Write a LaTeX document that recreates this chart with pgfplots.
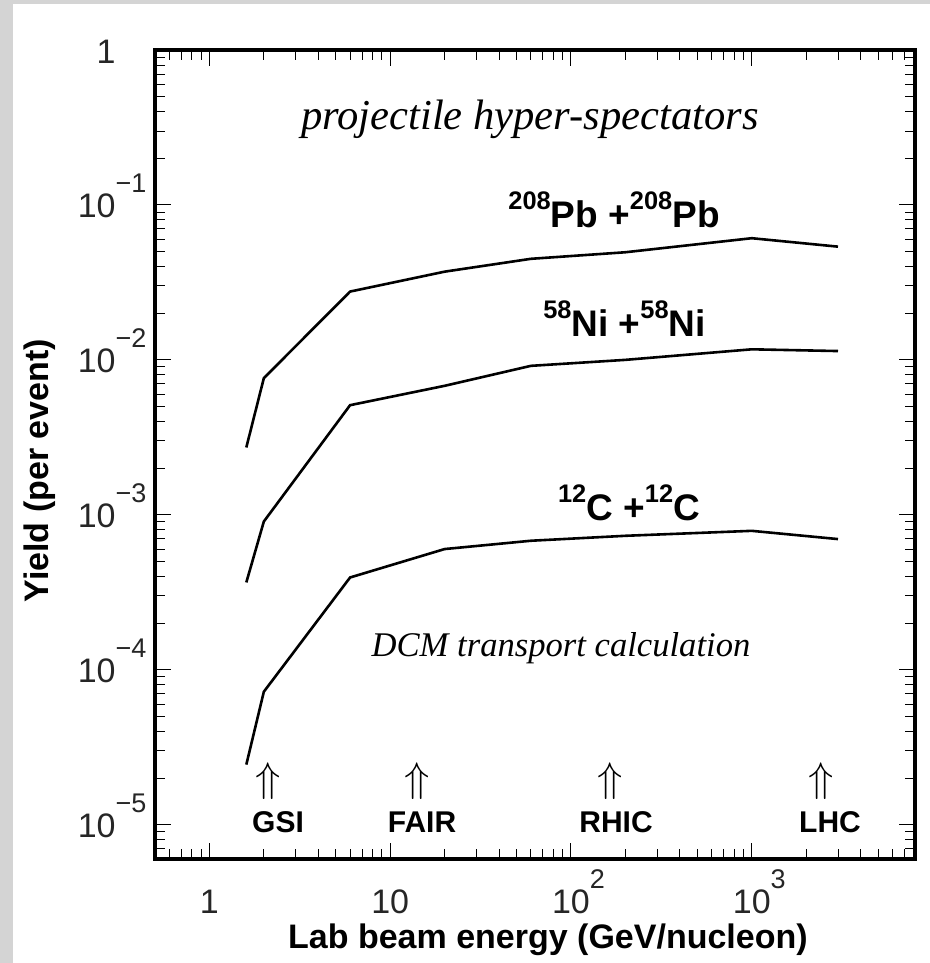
\documentclass[border=0pt]{standalone}
\usepackage{fontspec}
\setmainfont{Liberation Sans}
\newfontfamily\tnr{Liberation Serif}
\usepackage{pgfplots}
\pgfplotsset{compat=1.18}
\definecolor{bordergray}{HTML}{D4D4D4}
% exponent hanging to the right of "10", like the original
\newcommand{\ex}[1]{\rlap{\raisebox{12.5pt}{\fontsize{13.5}{14}\selectfont #1}}}
\newcommand{\iso}[1]{\raisebox{9pt}{\fontsize{12.7}{13}\selectfont #1}}

\begin{document}
\begin{tikzpicture}
  \fill[bordergray] (0,0) rectangle (465pt,-481.5pt);
  \fill[white] (6.5pt,-2pt) rectangle (465pt,-481.5pt);
  \begin{axis}[
    at={(77.5pt,-429.5pt)}, anchor=south west,
    scale only axis, width=380pt, height=404.5pt,
    xmode=log, ymode=log,
    xmin=0.5, xmax=8000, ymin=6e-6, ymax=1,
    axis line style={line width=1.6pt},
    tick align=inside,
    major tick length=8pt, minor tick length=5pt,
    every tick/.style={black, line width=0.5pt},
    xtick={1,10,100,1000},
    xticklabels={1,10,10\ex{2},10\ex{3}},
    minor xtick={0.6,0.7,0.8,0.9,2,3,4,5,6,7,8,9,20,30,40,50,60,70,80,90,200,300,400,500,600,700,800,900,2000,3000,4000,5000,6000,7000,8000},
    ytick={1e-5,1e-4,1e-3,1e-2,1e-1,1},
    yticklabels={10\ex{−5},10\ex{−4},10\ex{−3},10\ex{−2},10\ex{−1},1},
    minor ytick={7e-6,8e-6,9e-6,2e-5,3e-5,4e-5,5e-5,6e-5,7e-5,8e-5,9e-5,2e-4,3e-4,4e-4,5e-4,6e-4,7e-4,8e-4,9e-4,2e-3,3e-3,4e-3,5e-3,6e-3,7e-3,8e-3,9e-3,2e-2,3e-2,4e-2,5e-2,6e-2,7e-2,8e-2,9e-2,0.2,0.3,0.4,0.5,0.6,0.7,0.8,0.9},
    tick label style={font=\fontsize{17}{19}\selectfont, inner sep=0pt, text=black!85},
    xticklabel style={anchor=base, yshift=-27pt},
    yticklabel style={anchor=base east, xshift=-19.5pt, yshift=-6.5pt},
    xlabel={Lab beam energy (GeV/nucleon)},
    ylabel={Yield (per event)},
    label style={font=\fontsize{17}{20}\selectfont\bfseries, inner sep=0pt},
    xlabel style={at={(axis description cs:0.517,-0.110)}, anchor=base},
    ylabel style={at={(axis description cs:-0.1395,0.48)}, anchor=base},
  ]
    % 208Pb + 208Pb
    \addplot[black, no markers, line width=1.3pt, line join=miter] coordinates {(1.6,2.72e-3) (2,7.62e-3) (6,0.0276) (20,0.0371) (60,0.0449) (200,0.0495) (1000,0.0610) (3000,0.0538)};
    % 58Ni + 58Ni
    \addplot[black, no markers, line width=1.3pt, line join=miter] coordinates {(1.6,3.66e-4) (2,9.05e-4) (6,5.10e-3) (20,6.8e-3) (60,9.15e-3) (200,0.0100) (1000,0.0117) (3000,0.0114)};
    % 12C + 12C
    \addplot[black, no markers, line width=1.3pt, line join=miter] coordinates {(1.6,2.44e-5) (2,7.21e-5) (6,3.94e-4) (20,6.01e-4) (60,6.8e-4) (200,7.32e-4) (1000,7.88e-4) (3000,6.97e-4)};
  \end{axis}
  \begin{scope}[x=0.5pt, y=-0.5pt]
    \node[anchor=base, inner sep=0pt, font=\tnr\itshape\fontsize{21.3}{24}\selectfont] at (530,130) {projectile hyper-spectators};
    \node[anchor=base, inner sep=0pt, font=\tnr\itshape\fontsize{17.3}{20}\selectfont] at (561,656.7) {DCM transport calculation};
    \begin{scope}[every node/.style={anchor=base, inner sep=0pt, font=\fontsize{18.5}{21}\selectfont\bfseries}]
      \node at (614,227) {\iso{208}Pb +\iso{208}Pb};
      \node at (624.5,336.7) {\iso{58}Ni +\iso{58}Ni};
      \node at (629,520.7) {\iso{12}C +\iso{12}C};
    \end{scope}
    \begin{scope}[every node/.style={anchor=south, inner sep=0pt, font=\fontsize{22}{24}\selectfont}]
      \node at (268,800) {$\Uparrow$};
      \node at (417,800) {$\Uparrow$};
      \node at (610,800) {$\Uparrow$};
      \node at (821,800) {$\Uparrow$};
    \end{scope}
    \begin{scope}[every node/.style={anchor=base, inner sep=0pt, font=\fontsize{15}{18}\selectfont\bfseries}]
      \node at (278,832) {GSI};
      \node at (422,832) {FAIR};
      \node at (616,832) {RHIC};
      \node at (830,832) {LHC};
    \end{scope}
  \end{scope}
\end{tikzpicture}
\end{document}
